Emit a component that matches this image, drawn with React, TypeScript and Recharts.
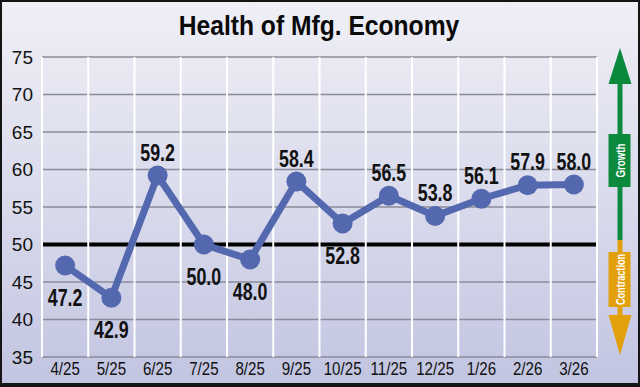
import React from 'react';
import { LineChart, Line, XAxis, YAxis, CartesianGrid, ReferenceLine, LabelList } from 'recharts';

const months = ['4/25', '5/25', '6/25', '7/25', '8/25', '9/25', '10/25', '11/25', '12/25', '1/26', '2/26', '3/26'];
const pmi = [47.2, 42.9, 59.2, 50.0, 48.0, 58.4, 52.8, 56.5, 53.8, 56.1, 57.9, 58.0];
const labelSide = ['below', 'below', 'above', 'below', 'below', 'above', 'below', 'above', 'above', 'above', 'above', 'above'];
const yTicks = [35, 40, 45, 50, 55, 60, 65, 70, 75];
const threshold = 50;

const data = months.map((m, i) => ({ month: m, pos: i + 0.5, value: pmi[i] }));
const xTicks = months.map((_, i) => i + 0.5);
const boundaries = months.map((_, i) => i).concat([months.length]);

const SANS = '"Liberation Sans", Arial, Helvetica, sans-serif';
const LINE_COLOR = '#5468b0';

const ValueLabel = (props: any) => {
  const { x, y, value, index } = props;
  const above = labelSide[index] === 'above';
  const ty = above ? y - 15 : y + 40;
  return (
    <text
      transform={`translate(${x},${ty}) scale(0.76,1)`}
      x={0}
      y={0}
      textAnchor="middle"
      fontFamily={SANS}
      fontWeight="bold"
      fontSize={23.5}
      fill="#111"
    >
      {Number(value).toFixed(1)}
    </text>
  );
};

const MonthTick = (props: any) => {
  const { x, y, payload } = props;
  return (
    <text
      transform={`translate(${x},${y}) scale(0.84,1)`}
      x={0}
      y={0}
      dy="0.71em"
      textAnchor="middle"
      fontFamily={SANS}
      fontSize={18}
      fill="#111"
    >
      {months[Math.floor(payload.value)]}
    </text>
  );
};

export default function App() {
  return (
    <div style={{ position: 'absolute', left: 0, top: 0, width: 640, height: 387 }}>
      <svg width={640} height={387} style={{ position: 'absolute', left: 0, top: 0 }}>
        <defs>
          <linearGradient id="bg" x1="0" y1="0" x2="0" y2="1">
            <stop offset="0%" stopColor="#efeff6" />
            <stop offset="55%" stopColor="#d8d9eb" />
            <stop offset="100%" stopColor="#c2c5e1" />
          </linearGradient>
        </defs>
        <rect x={0} y={0} width={640} height={387} fill="#151515" />
        <rect x={2} y={2} width={636} height={381} fill="url(#bg)" />
        <text
          transform="translate(319,35) scale(0.88,1)"
          x={0}
          y={0}
          textAnchor="middle"
          fontFamily={SANS}
          fontWeight="bold"
          fontSize={28}
          fill="#0a0a0a"
        >
          Health of Mfg. Economy
        </text>
        {/* growth arrow */}
        <rect x={617.5} y={80} width={5} height={160} fill="#0b8a3e" />
        <polygon points="620,48 608.5,84 631.5,84" fill="#0b8a3e" />
        <rect x={608.5} y={134} width={22} height={53} fill="#0b8a3e" />
        <text
          x={0}
          y={0}
          transform="translate(624.5,160.5) rotate(-90) scale(0.75,1)"
          textAnchor="middle"
          fontFamily={SANS}
          fontWeight="bold"
          fontSize={13}
          fill="#fff"
        >
          Growth
        </text>
        {/* contraction arrow */}
        <rect x={617.5} y={240} width={5} height={78} fill="#e2a10c" />
        <polygon points="608.5,315 631.5,315 620,355" fill="#e2a10c" />
        <rect x={608.5} y={252} width={22} height={55} fill="#e2a10c" />
        <text
          x={0}
          y={0}
          transform="translate(624.5,279.5) rotate(-90) scale(0.7,1)"
          textAnchor="middle"
          fontFamily={SANS}
          fontWeight="bold"
          fontSize={13}
          fill="#fff"
        >
          Contraction
        </text>
      </svg>
      <div style={{ position: 'absolute', left: 0, top: 0 }}>
        <LineChart width={640} height={387} data={data} margin={{ top: 57, right: 43, bottom: 0, left: 0 }}>
          <CartesianGrid vertical={false} stroke="#8a8b98" strokeWidth={1.6} />
          <XAxis
            dataKey="pos"
            type="number"
            domain={[0, months.length]}
            ticks={xTicks}
            axisLine={false}
            tickLine={false}
            tickSize={0}
            tickMargin={5}
            height={30}
            interval={0}
            tick={<MonthTick />}
          />
          <YAxis
            domain={[35, 75]}
            ticks={yTicks}
            axisLine={false}
            tickLine={false}
            tickSize={0}
            tickMargin={9}
            width={42}
            interval={0}
            tick={{ fontFamily: SANS, fontSize: 19, fill: '#111' }}
          />
          <ReferenceLine y={threshold} stroke="#000" strokeWidth={4} />
          {boundaries.map((b) => (
            <ReferenceLine key={b} x={b} stroke="#ffffff" strokeWidth={2} />
          ))}
          <Line
            type="linear"
            dataKey="value"
            stroke={LINE_COLOR}
            strokeWidth={7}
            dot={{ r: 10, fill: LINE_COLOR, stroke: 'none' }}
            activeDot={false}
            isAnimationActive={false}
          >
            <LabelList dataKey="value" content={<ValueLabel />} />
          </Line>
        </LineChart>
      </div>
    </div>
  );
}
